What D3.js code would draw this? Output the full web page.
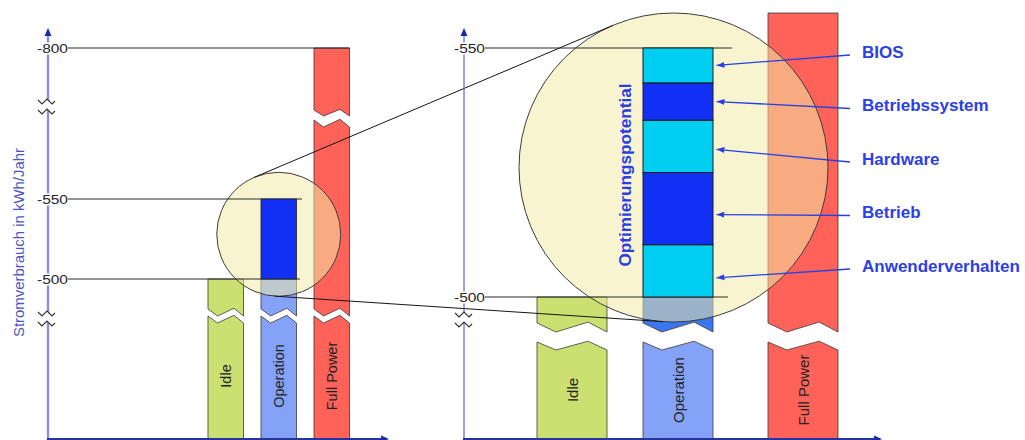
<!DOCTYPE html>
<html><head><meta charset="utf-8">
<script src="https://cdn.jsdelivr.net/npm/d3@7/dist/d3.min.js"></script>
<style>html,body{margin:0;padding:0;background:#fff;}svg{display:block;font-family:"Liberation Sans",Arial,sans-serif;}</style>
</head><body>
<svg id="c" width="1025" height="440"></svg>
<script>
// ---------- data ----------
const categories = ["Idle", "Operation", "Full Power"];
const consumption = [500, 550, 800];          // kWh/Jahr
const optimisedOperation = 500;               // Operation after optimisation
const potentialParts = ["Anwenderverhalten", "Betrieb", "Hardware", "Betriebssystem", "BIOS"]; // bottom -> top
const potentialValues = [10.5, 14.5, 10.5, 7.5, 7];
const leftTicks = [800, 550, 500];
const rightTicks = [550, 500];
const axisTitle = "Stromverbrauch in kWh/Jahr";
const zoomTitle = "Optimierungspotential";

// ---------- setup ----------
const svg = d3.select("#c");
const FONT = '"Liberation Sans", Arial, sans-serif';
const colIdle = "#cbe071", colOpLight = "#84a3f8", colOpMid = "#3a76f0", colFull = "#fe6258";
const colDark = "#1230f4", colCyan = "#00cff2";
const segColors = [colCyan, colDark, colCyan, colDark, colCyan];
const blueText = "#2a3fe6";

// broken (piecewise) value scales for both panels
const yL = d3.scaleLinear().domain([0, 500, 550, 800]).range([439, 279, 199, 48]);
const yR = d3.scaleLinear().domain([0, 500, 550, 800]).range([439, 297, 48, 13]);
const xL = d3.scaleBand().domain(categories).range([199.25, 358.25]).paddingInner(0.33).paddingOuter(0.165);
const xRc = d3.scaleOrdinal().domain(categories).range([572, 678, 803]);
const wR = 70;

const defs = svg.append("defs");
defs.append("marker").attr("id", "ah").attr("viewBox", "0 0 8 6").attr("refX", 8).attr("refY", 3)
  .attr("markerWidth", 8).attr("markerHeight", 6).attr("markerUnits", "userSpaceOnUse").attr("orient", "auto")
  .append("path").attr("d", "M0,0 L8,3 L0,6 Z").attr("fill", "#2440e8");

// zig-zag profile for bar breaks
const zigF = [0, 0.27, 0.73, 1], zigO = [0, 1, -0.1, 1];
function zig(x0, w, y0, amp, reverse) {
  let pts = zigF.map((f, i) => [x0 + f * w, y0 + zigO[i] * amp]);
  return reverse ? pts.reverse() : pts;
}
function drawBar(g, x0, w, yTop, yBot, breaks, colors) {
  const bs = breaks.filter(b => b.u > yTop + 4);
  const n = bs.length;
  for (let i = 0; i <= n; i++) {
    let top = i === 0 ? [[x0, yTop], [x0 + w, yTop]] : zig(x0, w, bs[i - 1].l, bs[i - 1].la, false);
    let bot = i === n ? [[x0 + w, yBot], [x0, yBot]] : zig(x0, w, bs[i].u, bs[i].ua, true);
    g.append("path").attr("d", d3.line()(top.concat(bot)) + "Z")
      .attr("fill", typeof colors === "function" ? colors(i) : colors)
      .attr("stroke", "#3a3a3a").attr("stroke-width", 0.8).attr("stroke-linejoin", "miter");
  }
}
function axisBreak(g, cx, cy) {
  const a = [[cx - 9, cy - 5], [cx - 5, cy - 1], [cx + 0, cy - 6], [cx + 5, cy - 1], [cx + 8, cy - 4]];
  const b = [[cx - 9, cy + 5], [cx - 5, cy + 9], [cx + 0, cy + 4], [cx + 5, cy + 9], [cx + 8, cy + 6]];
  g.append("path").attr("d", d3.line()(a.concat(b.slice().reverse())) + "Z").attr("fill", "#fff").attr("stroke", "none");
  [a, b].forEach(p => g.append("path").attr("d", d3.line()(p)).attr("fill", "none").attr("stroke", "#333").attr("stroke-width", 1.1));
}
function tangents(c1, c2) {
  const dx = c2.x - c1.x, dy = c2.y - c1.y, d = Math.hypot(dx, dy);
  const phi = Math.atan2(dy, dx), th = Math.asin((c2.r - c1.r) / d);
  return [1, -1].map(s => {
    const a = phi + s * (Math.PI / 2 + th), nx = Math.cos(a), ny = Math.sin(a);
    return [[c1.x + c1.r * nx, c1.y + c1.r * ny], [c2.x + c2.r * nx, c2.y + c2.r * ny]];
  });
}

const gBars = svg.append("g"), gCirc = svg.append("g"), gGrid = svg.append("g"),
      gPot = svg.append("g"), gLines = svg.append("g"), gAxes = svg.append("g"), gText = svg.append("g");

// ---------- left panel bars ----------
const breaksL = [{u: 110, ua: 6, l: 120, la: 7}, {u: 309, ua: 7, l: 316, la: 7}];
categories.forEach((c, i) => {
  const top = i === 1 ? yL(optimisedOperation) : yL(consumption[i]);
  const col = [colIdle, colOpLight, colFull][i];
  drawBar(gBars, xL(c), xL.bandwidth(), top, yL(0), breaksL, col);
});
// ---------- right panel bars ----------
const breaksR = [{u: 323, ua: 9, l: 342, la: 8}];
categories.forEach((c, i) => {
  const top = i === 1 ? yR(optimisedOperation) : yR(consumption[i]);
  const col = i === 1 ? (k => k === 0 ? colOpMid : colOpLight) : [colIdle, colOpLight, colFull][i];
  drawBar(gBars, xRc(c) - wR / 2, wR, top, yR(0), breaksR, col);
});

// ---------- magnifier circles ----------
const midV = (optimisedOperation + consumption[1]) / 2;
const cS = {x: xL("Operation") + xL.bandwidth() / 2, y: yL(midV) - 4.7, r: 62};
const cB = {x: xRc("Operation") - 4.5, y: yR(midV) - 5, r: 154.5};
[cS, cB].forEach(c => gCirc.append("circle").attr("cx", c.x).attr("cy", c.y).attr("r", c.r)
  .attr("fill", "rgb(242,234,166)").attr("fill-opacity", 0.53).attr("stroke", "#3c3c3c").attr("stroke-width", 1));

// ---------- grid lines ----------
const opRightL = xL("Operation") + xL.bandwidth(), opRightR = xRc("Operation") + wR / 2;
const gridL = [[800, xL("Full Power") + xL.bandwidth()], [550, opRightL + 5.5], [500, opRightL + 3.5]];
gridL.forEach(([v, x2]) => gGrid.append("line").attr("x1", 66).attr("x2", x2).attr("y1", yL(v)).attr("y2", yL(v))
  .attr("stroke", "#2a2a2a").attr("stroke-width", 1));
const gridR = [[550, opRightR + 19], [500, opRightR + 15]];
gridR.forEach(([v, x2]) => gGrid.append("line").attr("x1", 483).attr("x2", x2).attr("y1", yR(v)).attr("y2", yR(v))
  .attr("stroke", "#2a2a2a").attr("stroke-width", 1));

// ---------- optimisation potential ----------
gPot.append("rect").attr("x", xL("Operation")).attr("width", xL.bandwidth())
  .attr("y", yL(consumption[1])).attr("height", yL(optimisedOperation) - yL(consumption[1]))
  .attr("fill", colDark).attr("stroke", "#222").attr("stroke-width", 0.8);
let acc = optimisedOperation;
const segs = potentialValues.map((v, i) => { const s = {name: potentialParts[i], lo: acc, hi: acc + v, i}; acc += v; return s; });
gPot.selectAll("rect.seg").data(segs).join("rect").attr("class", "seg")
  .attr("x", xRc("Operation") - wR / 2).attr("width", wR)
  .attr("y", d => yR(d.hi)).attr("height", d => yR(d.lo) - yR(d.hi))
  .attr("fill", d => segColors[d.i]).attr("stroke", "#1a1a1a").attr("stroke-width", 1);

// ---------- connecting tangent lines ----------
tangents(cS, cB).forEach(l => gLines.append("line").attr("x1", l[0][0]).attr("y1", l[0][1])
  .attr("x2", l[1][0]).attr("y2", l[1][1]).attr("stroke", "#151515").attr("stroke-width", 1));

// ---------- axes ----------
function yAxisLine(x, col, w) {
  gAxes.append("line").attr("x1", x).attr("x2", x).attr("y1", 35).attr("y2", 439).attr("stroke", col).attr("stroke-width", w);
  gAxes.append("path").attr("d", `M${x},28 L${x - 3.5},36 L${x + 3.5},36 Z`).attr("fill", "#1a2aa8");
}
function xAxisLine(x1, x2) {
  gAxes.append("line").attr("x1", x1).attr("x2", x2 - 6).attr("y1", 439).attr("y2", 439).attr("stroke", "#26349e").attr("stroke-width", 2);
  gAxes.append("path").attr("d", `M${x2},439 L${x2 - 8},435.5 L${x2 - 8},442.5 Z`).attr("fill", "#1a2aa8");
}
yAxisLine(48, "#8a91d6", 2.4);
yAxisLine(464, "#5763d2", 1.2);
xAxisLine(47, 389);
xAxisLine(463, 882);
axisBreak(gAxes, 47, 105);
axisBreak(gAxes, 47, 317);
axisBreak(gAxes, 464, 318);

function tickLabels(scale, ticks, x0) {
  const ax = d3.axisRight(scale).tickValues(ticks).tickSize(0).tickPadding(0).tickFormat(d => "-" + d);
  const g = gAxes.append("g").attr("transform", `translate(${x0},0)`).call(ax);
  g.select(".domain").remove();
  g.selectAll(".tick").insert("rect", "text").attr("x", -1).attr("y", -6).attr("width", 32).attr("height", 12).attr("fill", "#fff");
  g.selectAll(".tick text").attr("x", 0).attr("dy", "0.36em").attr("fill", "#262626")
    .attr("font-family", FONT).attr("font-size", 12).attr("text-anchor", "start")
    .attr("textLength", 31).attr("lengthAdjust", "spacingAndGlyphs");
}
tickLabels(yL, leftTicks, 37);
tickLabels(yR, rightTicks, 454);

gText.append("text").attr("transform", "translate(18.5,242.5) rotate(-90)")
  .attr("text-anchor", "middle").attr("dominant-baseline", "central")
  .attr("font-family", FONT).attr("font-size", 14.5).attr("fill", "#4b55c4")
  .attr("textLength", 189).attr("lengthAdjust", "spacingAndGlyphs").text(axisTitle);

// bar category labels
categories.forEach((c, i) => {
  gText.append("text").attr("transform", `translate(${xL(c) + xL.bandwidth() / 2},376) rotate(-90)`)
    .attr("text-anchor", "middle").attr("dominant-baseline", "central")
    .attr("font-family", FONT).attr("font-size", 14.5).attr("fill", "#222").text(c);
  gText.append("text").attr("transform", `translate(${xRc(c)},390) rotate(-90)`)
    .attr("text-anchor", "middle").attr("dominant-baseline", "central")
    .attr("font-family", FONT).attr("font-size", 15).attr("fill", "#222").text(c);
});

// zoom title
gText.append("text").attr("transform", `translate(${xRc("Operation") - 53},${yR(midV) + 2.5}) rotate(-90)`)
  .attr("text-anchor", "middle").attr("dominant-baseline", "central")
  .attr("font-family", FONT).attr("font-size", 16.5).attr("font-weight", "bold").attr("fill", blueText)
  .attr("textLength", 183).attr("lengthAdjust", "spacingAndGlyphs").text(zoomTitle);

// legend labels with arrows (top -> bottom)
const nudge = [0, 0, 3, 6, 7];
segs.slice().reverse().forEach((d, k) => {
  const ly = 52 + k * 53.5;
  const tipY = (yR(d.lo) + yR(d.hi)) / 2 + nudge[k];
  gText.append("line").attr("x1", 850).attr("y1", ly + 3).attr("x2", opRightR + 3.5).attr("y2", tipY)
    .attr("stroke", "#2440e8").attr("stroke-width", 1.3).attr("marker-end", "url(#ah)");
  gText.append("text").attr("x", 862).attr("y", ly).attr("dominant-baseline", "central")
    .attr("font-family", FONT).attr("font-size", 17).attr("font-weight", "bold").attr("fill", blueText).text(d.name);
});
</script>
</body></html>
